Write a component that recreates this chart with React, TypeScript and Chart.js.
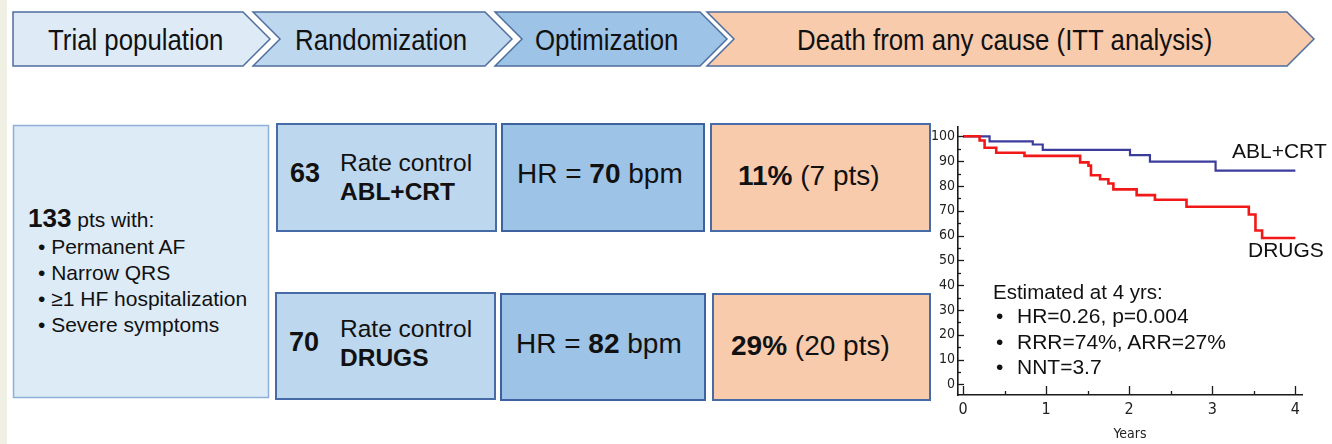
import React, { useEffect, useRef } from "react";
import { Chart, registerables } from "chart.js";

Chart.register(...registerables);

// ---- Kaplan-Meier data (years, % alive) ----
const yearsAbl = [0, 0.32, 0.84, 0.96, 2.01, 2.25, 3.04, 4.0];
const survAbl = [100, 98.0, 96.7, 94.5, 92.4, 89.8, 86.2, 86.2];

const yearsDrugs = [0, 0.2, 0.26, 0.4, 0.74, 1.41, 1.51, 1.54, 1.65, 1.75, 1.81, 2.09, 2.31, 2.69, 3.44, 3.52, 3.6, 4.0];
const survDrugs = [100, 98.3, 95.4, 93.4, 92.1, 89.5, 88.2, 84.3, 82.7, 81.0, 78.6, 76.3, 74.4, 71.6, 68.5, 62.0, 59.0, 59.0];

const xTickValues = [0, 1, 2, 3, 4];
const xMinorValues = [0.5, 1.5, 2.5, 3.5];
const yTickValues = [0, 10, 20, 30, 40, 50, 60, 70, 80, 90, 100];
const yMinorValues = [5, 15, 25, 35, 45, 55, 65, 75, 85, 95];

// ---- infographic texts ----
const headerLabels = ["Trial population", "Randomization", "Optimization", "Death from any cause (ITT analysis)"];
const criteria = ["Permanent AF", "Narrow QRS", "≥1 HF hospitalization", "Severe symptoms"];
const groupCounts = ["63", "70"];
const groupNames = ["ABL+CRT", "DRUGS"];
const heartRates = ["70", "82"];
const deathPct = ["11%", "29%"];
const deathPts = ["(7 pts)", "(20 pts)"];
const estimates = ["HR=0.26, p=0.004", "RRR=74%, ARR=27%", "NNT=3.7"];

const NARROW = "'Liberation Sans Narrow', 'Arial Narrow', 'DejaVu Sans Condensed', 'Liberation Sans', sans-serif";
const SANS = "'Liberation Sans', Arial, sans-serif";

const innerTicks = {
  id: "innerTicks",
  afterDatasetsDraw(chart: any) {
    const { ctx, chartArea } = chart;
    const x = chart.scales.x;
    const y = chart.scales.y;
    ctx.save();
    ctx.strokeStyle = "#1a1a1a";
    ctx.lineWidth = 1.3;
    const seg = (x1: number, y1: number, x2: number, y2: number) => {
      ctx.beginPath();
      ctx.moveTo(x1, y1);
      ctx.lineTo(x2, y2);
      ctx.stroke();
    };
    xTickValues.forEach((v) => {
      const px = Math.round(x.getPixelForValue(v)) + 0.5;
      seg(px, chartArea.bottom, px, chartArea.bottom - 9);
    });
    xMinorValues.forEach((v) => {
      const px = Math.round(x.getPixelForValue(v)) + 0.5;
      seg(px, chartArea.bottom, px, chartArea.bottom - 4);
    });
    yTickValues.forEach((v) => {
      const py = Math.round(y.getPixelForValue(v)) + 0.5;
      seg(chartArea.left, py, chartArea.left + 6, py);
    });
    yMinorValues.forEach((v) => {
      const py = Math.round(y.getPixelForValue(v)) + 0.5;
      seg(chartArea.left, py, chartArea.left + 3, py);
    });
    ctx.restore();
  },
};

function KMChart() {
  const ref = useRef<HTMLCanvasElement | null>(null);
  useEffect(() => {
    if (!ref.current) return;
    const chart = new Chart(ref.current, {
      type: "line",
      data: {
        datasets: [
          {
            label: "DRUGS",
            data: yearsDrugs.map((t, i) => ({ x: t, y: survDrugs[i] })),
            borderColor: "#F21818",
            borderWidth: 2.6,
            pointRadius: 0,
            stepped: "before",
            fill: false,
          },
          {
            label: "ABL+CRT",
            data: yearsAbl.map((t, i) => ({ x: t, y: survAbl[i] })),
            borderColor: "#3C3C9C",
            borderWidth: 2.2,
            pointRadius: 0,
            stepped: "before",
            fill: false,
          },
        ],
      },
      options: {
        responsive: false,
        animation: false,
        devicePixelRatio: 1,
        layout: { padding: { top: 5, right: 30, left: 0, bottom: 0 } },
        plugins: { legend: { display: false }, tooltip: { enabled: false } },
        scales: {
          x: {
            type: "linear",
            min: -0.06,
            max: 4.08,
            grid: { display: false, drawTicks: false },
            border: { display: true, color: "#1a1a1a", width: 1.6 },
            ticks: {
              color: "#222",
              font: { family: NARROW, size: 16 },
              padding: 5,
              maxRotation: 0,
              autoSkip: false,
            },
            afterBuildTicks: (s: any) => {
              s.ticks = xTickValues.map((v) => ({ value: v }));
            },
            afterFit: (s: any) => {
              s.height = 49;
            },
            title: {
              display: true,
              text: "Years",
              color: "#222",
              font: { family: NARROW, size: 14 },
              padding: { top: 0, bottom: 1 },
            },
          },
          y: {
            type: "linear",
            min: -4.3,
            max: 104,
            grid: { display: false, drawTicks: false },
            border: { display: true, color: "#1a1a1a", width: 1.6 },
            ticks: {
              color: "#222",
              font: { family: NARROW, size: 14 },
              padding: 3,
              autoSkip: false,
            },
            afterBuildTicks: (s: any) => {
              s.ticks = yTickValues.map((v) => ({ value: v }));
            },
            afterFit: (s: any) => {
              s.width = 33;
            },
          },
        },
      },
      plugins: [innerTicks],
    } as any);
    return () => chart.destroy();
  }, []);
  return (
    <canvas
      ref={ref}
      width={407}
      height={329}
      style={{ position: "absolute", left: 925, top: 115, width: 407, height: 329 }}
    />
  );
}

function T(props: { x: number; base: number; size: number; bold?: boolean; sx?: number; children: any }) {
  const { x, base, size, bold, sx, children } = props;
  return (
    <div
      style={{
        position: "absolute",
        left: x,
        top: base - 0.8465 * size,
        fontSize: size,
        lineHeight: 1,
        fontWeight: bold ? 700 : 400,
        whiteSpace: "nowrap",
        transform: sx ? `scaleX(${sx})` : undefined,
        transformOrigin: "left top",
        fontFamily: SANS,
        color: "#111",
      }}
    >
      {children}
    </div>
  );
}

export default function App() {
  const chevStroke = "#4F6E9F";
  const boxStroke = "#476BA6";
  return (
    <div
      style={{
        position: "absolute",
        left: 0,
        top: 0,
        width: 1332,
        height: 444,
        background: "#ffffff",
        overflow: "hidden",
        fontFamily: SANS,
      }}
    >
      <svg width={1332} height={444} style={{ position: "absolute", left: 0, top: 0 }}>
        <rect x={0} y={0} width={7} height={444} fill="#EFEFE3" />
        <polygon points="13,12 243,12 270,39 243,66 13,66" fill="#DEEBF7" stroke={chevStroke} strokeWidth={1.5} />
        <polygon points="253,12 485,12 512,39 485,66 253,66 280,39" fill="#BDD7EE" stroke={chevStroke} strokeWidth={1.5} />
        <polygon points="495,12 700,12 727,39 700,66 495,66 522,39" fill="#9DC3E6" stroke={chevStroke} strokeWidth={1.5} />
        <polygon points="707,12 1287,12 1314,39 1287,66 707,66 734,39" fill="#F8CBAD" stroke={chevStroke} strokeWidth={1.5} />

        <rect x={13.5} y={125.5} width={255} height={272} fill="#DDEBF7" stroke="#8EB0D8" strokeWidth={1.5} />
        <rect x={277} y={124} width={219} height={107} fill="#BDD7EE" stroke={boxStroke} strokeWidth={2} />
        <rect x={276} y={293} width={219} height={106} fill="#BDD7EE" stroke={boxStroke} strokeWidth={2} />
        <rect x={502} y={124} width={202} height={107} fill="#9DC3E6" stroke="#3E62A0" strokeWidth={2} />
        <rect x={501} y={294} width={204} height={106} fill="#9DC3E6" stroke="#3E62A0" strokeWidth={2} />
        <rect x={711} y={124} width={219} height={107} fill="#F8CBAD" stroke={boxStroke} strokeWidth={2} />
        <rect x={713} y={294} width={217} height={106} fill="#F8CBAD" stroke={boxStroke} strokeWidth={2} />
      </svg>

      <KMChart />

      {/* header */}
      <T x={48} base={50} size={30} sx={0.86}>{headerLabels[0]}</T>
      <T x={295} base={50} size={30} sx={0.86}>{headerLabels[1]}</T>
      <T x={535} base={50} size={30} sx={0.86}>{headerLabels[2]}</T>
      <T x={797} base={50} size={30} sx={0.86}>{headerLabels[3]}</T>

      {/* trial population */}
      <T x={28} base={227} size={26} bold>
        133<span style={{ fontWeight: 400, fontSize: 21 }}> pts with:</span>
      </T>
      {criteria.map((c, i) => (
        <T key={c} x={38} base={254 + i * 26} size={21}>
          {"• " + c}
        </T>
      ))}

      {/* randomization */}
      <T x={290} base={183} size={27} bold>{groupCounts[0]}</T>
      <T x={340} base={172} size={24.5}>Rate control</T>
      <T x={340} base={201} size={24.5} bold>{groupNames[0]}</T>
      <T x={289} base={352} size={27} bold>{groupCounts[1]}</T>
      <T x={340} base={338} size={24.5}>Rate control</T>
      <T x={340} base={367} size={24.5} bold>{groupNames[1]}</T>

      {/* optimization */}
      <T x={517} base={184} size={28}>
        HR = <b>{heartRates[0]}</b> bpm
      </T>
      <T x={516} base={354} size={28}>
        HR = <b>{heartRates[1]}</b> bpm
      </T>

      {/* deaths */}
      <T x={738} base={186} size={28}>
        <b>{deathPct[0]}</b> {deathPts[0]}
      </T>
      <T x={731} base={356} size={28}>
        <b>{deathPct[1]}</b> {deathPts[1]}
      </T>

      {/* chart annotations */}
      <T x={1232} base={158} size={21}>{groupNames[0]}</T>
      <T x={1248} base={257} size={21}>{groupNames[1]}</T>
      <T x={993} base={299} size={20.5}>Estimated at 4 yrs:</T>
      {estimates.map((e, i) => (
        <React.Fragment key={e}>
          <T x={996} base={323 + i * 25.5} size={21}>•</T>
          <T x={1017} base={323 + i * 25.5} size={21}>{e}</T>
        </React.Fragment>
      ))}
    </div>
  );
}
